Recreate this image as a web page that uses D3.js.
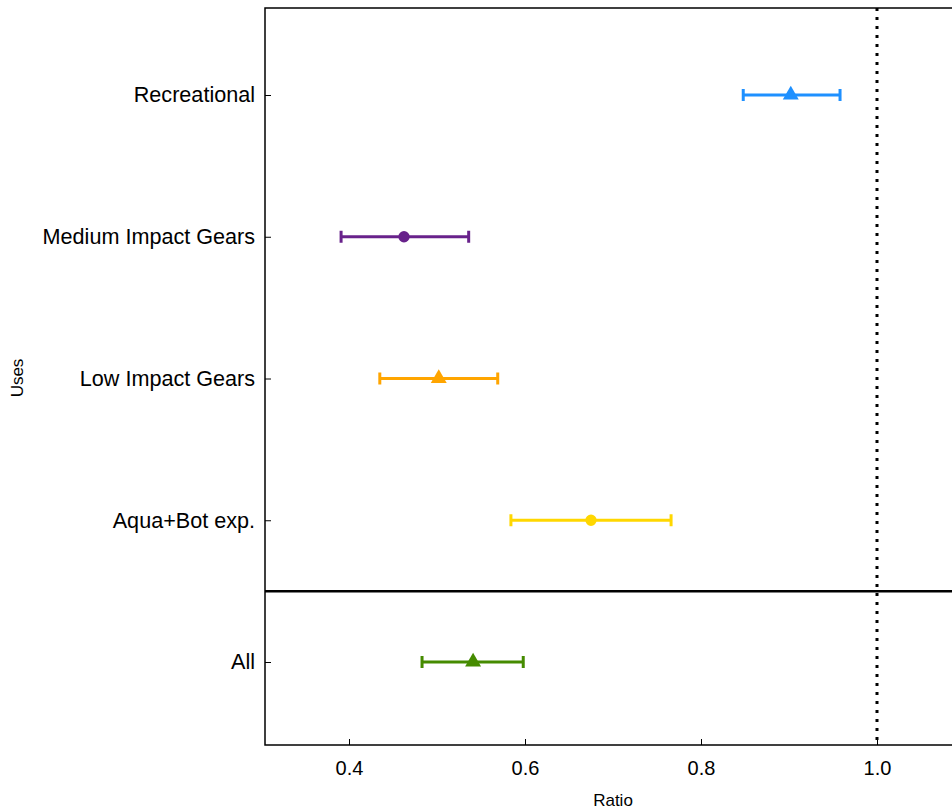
<!DOCTYPE html>
<html>
<head>
<meta charset="utf-8">
<script src="https://d3js.org/d3.v7.min.js"></script>
<style>
  body { margin: 0; background: #fff; }
  svg { display: block; font-family: "Liberation Sans", Arial, sans-serif; }
</style>
</head>
<body>
<div id="chart"></div>
<script>
var width = 952,
    height = 811;

// data, top to bottom
var uses = ["Recreational", "Medium Impact Gears", "Low Impact Gears", "Aqua+Bot exp.", "All"];
var ratio = [0.902, 0.4625, 0.502, 0.675, 0.541];
var lower = [0.848, 0.391, 0.435, 0.584, 0.483];
var upper = [0.958, 0.536, 0.569, 0.766, 0.598];
var shapes = ["triangle", "circle", "triangle", "circle", "triangle"];
var colors = ["#1E90FF", "#68228B", "#FFA500", "#FFD700", "#458B00"];
var xTicks = [0.4, 0.6, 0.8, 1.0];

var plotLeft = 265, plotRight = 1040, plotTop = 8, plotBottom = 745;

var x = d3.scaleLinear()
    .domain([0.4, 1.0])
    .range([349, 877]);

var y = d3.scalePoint()
    .domain(uses)
    .range([95, 662]);

var svg = d3.select("#chart").append("svg")
    .attr("width", width)
    .attr("height", height);

// frame
svg.append("rect")
    .attr("x", plotLeft)
    .attr("y", plotTop)
    .attr("width", plotRight - plotLeft)
    .attr("height", plotBottom - plotTop)
    .attr("fill", "none")
    .attr("stroke", "#000")
    .attr("stroke-width", 1.5);

// reference line at 1
svg.append("line")
    .attr("x1", x(1)).attr("x2", x(1))
    .attr("y1", plotTop).attr("y2", plotBottom)
    .attr("stroke", "#000")
    .attr("stroke-width", 3)
    .attr("stroke-dasharray", "3,6");

// separator between "All" and the rest
var sep = (y("Aqua+Bot exp.") + y("All")) / 2;
svg.append("line")
    .attr("x1", plotLeft).attr("x2", width)
    .attr("y1", sep).attr("y2", sep)
    .attr("stroke", "#000")
    .attr("stroke-width", 2.5);

// x axis
var xAxis = svg.append("g")
    .attr("transform", "translate(0," + plotBottom + ")")
    .call(d3.axisBottom(x).tickValues(xTicks).tickFormat(d3.format(".1f")).tickSize(-6).tickSizeOuter(0));
xAxis.select(".domain").remove();
xAxis.selectAll("line").attr("stroke", "#000");
xAxis.selectAll("text")
    .attr("y", 16)
    .attr("font-size", 20)
    .attr("fill", "#000");

// y axis
var yAxis = svg.append("g")
    .attr("transform", "translate(" + plotLeft + ",0)")
    .call(d3.axisLeft(y).tickSize(-6).tickPadding(10).tickSizeOuter(0));
yAxis.select(".domain").remove();
yAxis.selectAll("line").attr("stroke", "#000");
yAxis.selectAll("text")
    .attr("font-size", 21.6)
    .attr("fill", "#000");

// axis titles
svg.append("text")
    .attr("x", 613)
    .attr("y", 806)
    .attr("text-anchor", "middle")
    .attr("font-size", 17)
    .text("Ratio");

svg.append("text")
    .attr("transform", "translate(23,378) rotate(-90)")
    .attr("text-anchor", "middle")
    .attr("font-size", 17)
    .text("Uses");

// error bars
var rows = svg.append("g").selectAll("g")
    .data(uses)
  .enter().append("g")
    .attr("stroke", function(d, i) { return colors[i]; })
    .attr("fill", function(d, i) { return colors[i]; });

rows.append("line")
    .attr("x1", function(d, i) { return x(lower[i]); })
    .attr("x2", function(d, i) { return x(upper[i]); })
    .attr("y1", function(d) { return y(d); })
    .attr("y2", function(d) { return y(d); })
    .attr("stroke-width", 3);

rows.append("line")
    .attr("x1", function(d, i) { return x(lower[i]); })
    .attr("x2", function(d, i) { return x(lower[i]); })
    .attr("y1", function(d) { return y(d) - 6; })
    .attr("y2", function(d) { return y(d) + 6; })
    .attr("stroke-width", 3);

rows.append("line")
    .attr("x1", function(d, i) { return x(upper[i]); })
    .attr("x2", function(d, i) { return x(upper[i]); })
    .attr("y1", function(d) { return y(d) - 6; })
    .attr("y2", function(d) { return y(d) + 6; })
    .attr("stroke-width", 3);

rows.append("path")
    .attr("transform", function(d, i) { return "translate(" + x(ratio[i]) + "," + y(d) + ")"; })
    .attr("d", function(d, i) {
      return shapes[i] == "circle"
        ? d3.symbol().type(d3.symbolCircle).size(100)()
        : d3.symbol().type(d3.symbolTriangle).size(110)();
    })
    .attr("stroke", "none");
</script>
</body>
</html>
